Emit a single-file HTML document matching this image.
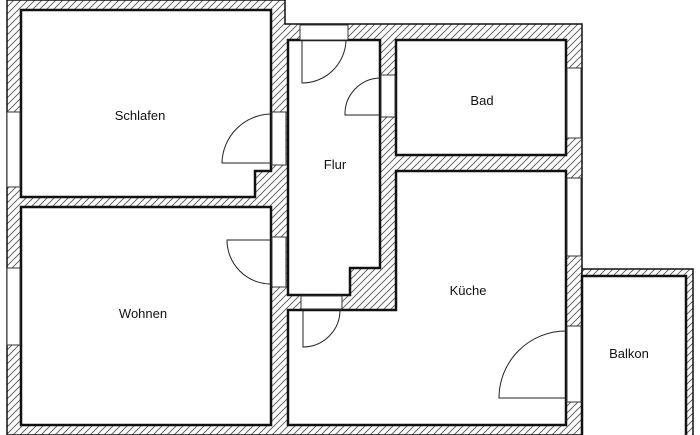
<!DOCTYPE html>
<html><head><meta charset="utf-8"><style>
html,body{margin:0;padding:0;background:#fff;}
svg{display:block;}
text{font-family:"Liberation Sans",sans-serif;font-size:13px;fill:#111;text-anchor:middle;}
</style></head><body>
<svg width="700" height="435" viewBox="0 0 700 435" xmlns="http://www.w3.org/2000/svg">
<defs>
<pattern id="h" width="7" height="7" patternUnits="userSpaceOnUse">
<rect width="7" height="7" fill="#fff"/>
<path d="M-1,8 L8,-1 M-2,2 L2,-2 M5,9 L9,5" stroke="#555" stroke-width="0.9"/>
</pattern>
</defs>
<!-- footprint -->
<polygon points="7,0 285,0 285,24 582,24 582,435 7,435" fill="url(#h)" stroke="#111" stroke-width="1.5"/>
<!-- balcony -->
<rect x="582" y="269" width="111" height="170" fill="url(#h)" stroke="#111" stroke-width="1.5"/>
<rect x="582" y="276" width="104" height="165" fill="#fff" stroke="#111" stroke-width="2.5"/>
<!-- rooms -->
<g fill="#fff" stroke="#111" stroke-width="2.5">
<polygon points="21,10 271,10 271,171 255,171 255,197 21,197"/>
<rect x="21" y="207" width="250" height="218"/>
<polygon points="288,40 380,40 380,268 350,268 350,295 288,295"/>
<rect x="396" y="40" width="170" height="115"/>
<polygon points="396,171 566,171 566,425 288,425 288,310 396,310"/>
</g>
<!-- openings -->
<g fill="#fff" stroke="#333" stroke-width="1">
<rect x="300" y="25" width="48" height="15"/>
<rect x="381" y="75" width="14" height="42"/>
<rect x="272" y="112" width="14" height="53"/>
<rect x="272" y="237" width="14" height="50"/>
<rect x="301" y="296" width="41" height="13"/>
<rect x="567" y="68" width="14" height="70"/>
<rect x="567" y="178" width="14" height="78"/>
<rect x="567" y="326" width="14" height="76"/>
<rect x="7" y="112" width="13" height="75"/>
<rect x="7" y="268" width="13" height="77"/>
</g>
<!-- doors -->
<g fill="none" stroke="#222" stroke-width="1">
<path d="M302,40 L302,83 A44,44 0 0 0 346,40"/>
<path d="M380,115 L345,115 A36,36 0 0 1 380,78"/>
<path d="M271,163 L222,163 A50,50 0 0 1 271,114"/>
<path d="M271,240 L227,240 A44,44 0 0 0 271,284"/>
<path d="M303,310 L303,347 A37,37 0 0 0 340,310"/>
<path d="M566,398 L499,398 A67,67 0 0 1 566,331"/>
</g>
<text x="140" y="120">Schlafen</text>
<text x="335" y="169">Flur</text>
<text x="482" y="105">Bad</text>
<text x="468" y="295">Küche</text>
<text x="143" y="318">Wohnen</text>
<text x="629" y="358">Balkon</text>
</svg>
</body></html>
